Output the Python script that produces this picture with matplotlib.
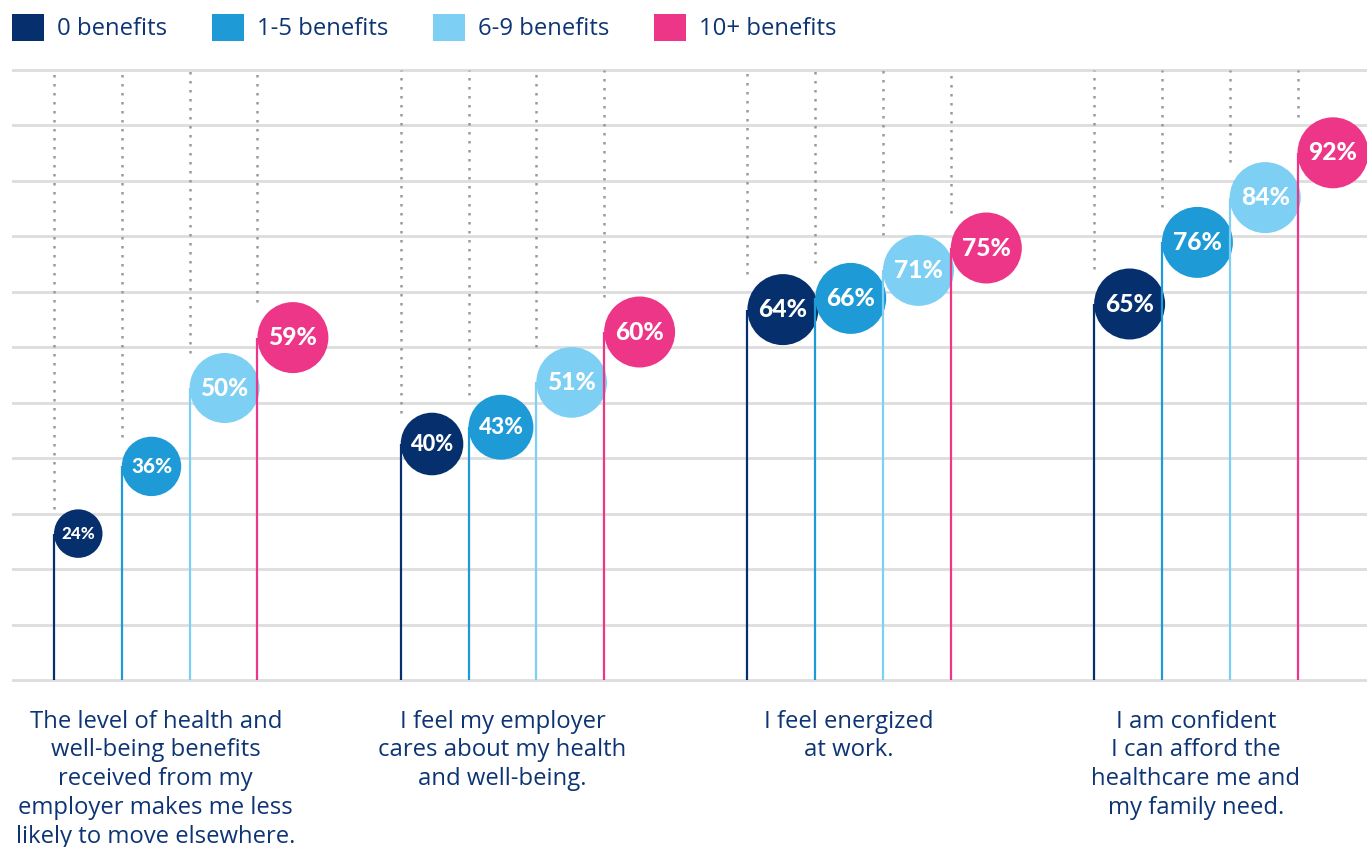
import numpy as np
import matplotlib.pyplot as plt
from matplotlib.patches import Patch
from matplotlib.transforms import blended_transform_factory

plt.rcParams.update({'font.family': ['Open Sans', 'DejaVu Sans']})

# data
series = ['0 benefits', '1-5 benefits', '6-9 benefits', '10+ benefits']
statements = [
    'The level of health and\nwell-being benefits\nreceived from my\nemployer makes me less\nlikely to move elsewhere.',
    'I feel my employer\ncares about my health\nand well-being.',
    'I feel energized\nat work.',
    'I am confident\nI can afford the\nhealthcare me and\nmy family need.',
]
vals_0 = [24, 40, 64, 65]
vals_1_5 = [36, 43, 66, 76]
vals_6_9 = [50, 51, 71, 84]
vals_10 = [59, 60, 75, 92]
all_vals = [vals_0, vals_1_5, vals_6_9, vals_10]

colors = ['#062f6e', '#1e9ad6', '#7ecff4', '#ee3688']
text_color = '#0d3474'
grid_color = '#dddddd'
dot_color = '#9a9a9a'

W, H = 1367, 847
fig = plt.figure(figsize=(W / 100, H / 100), dpi=100)
ax_l, ax_r, ax_t, ax_b = 12, 1367, 62, 684
ax = fig.add_axes([ax_l / W, 1 - ax_b / H, (ax_r - ax_l) / W, (ax_b - ax_t) / H])

# pixel scales of the layout
px_per_group = 346.7
px_per_pct = 5.6
first_center_px = 155.7
zero_px = 668
ax.set_xlim(-(first_center_px - ax_l) / px_per_group, (ax_r - first_center_px) / px_per_group)
ax.set_ylim(-(ax_b - zero_px) / px_per_pct, (zero_px - ax_t) / px_per_pct)
ax.axis('off')

# horizontal guide lines
base = -(680 - zero_px) / px_per_pct
top = (zero_px - 70) / px_per_pct
for g in np.linspace(base, top, 12):
    ax.axhline(g, color=grid_color, lw=2, zorder=0)

step = 67.8 / px_per_group
groups = np.arange(len(statements))
for j, (vals, c) in enumerate(zip(all_vals, colors)):
    xs = groups + (j - 1.5) * step
    for x, v in zip(xs, vals):
        r = min(4.95 * np.sqrt(v), 35.5)
        ax.plot([x, x], [base, v], color=c, lw=1.6, zorder=2 + 2 * j, solid_capstyle='butt')
        ax.plot([x, x], [v + r / px_per_pct, top], color=dot_color, lw=1.8,
                dashes=(1, 2.6), zorder=1)
        cx = x + r / px_per_group
        ax.scatter([cx], [v], s=(1.44 * r) ** 2, color=c, edgecolors='none',
                   zorder=3 + 2 * j, clip_on=False)
        ax.text(cx, v, f'{v}%', color='white', fontsize=r * 0.5, fontweight='black',
                family='Lato', ha='center', va='center', zorder=3.5 + 2 * j)

# statement labels under each group
trans = blended_transform_factory(ax.transData, ax.transAxes)
for i, s in enumerate(statements):
    ax.text(i, -0.041, s, transform=trans, ha='center', va='top', fontsize=17.2,
            color=text_color, linespacing=1.27)

# legend
handles = [Patch(facecolor=c, edgecolor='none', label=s) for s, c in zip(series, colors)]
fig.legend(handles=handles, loc='upper left', bbox_to_anchor=(12 / W, 1 - 14 / H), ncol=4,
           frameon=False, fontsize=17.2, handlelength=1.35, handleheight=1.35,
           handletextpad=0.55, columnspacing=1.85, borderpad=0, borderaxespad=0,
           labelcolor=text_color)

fig.savefig('out.png', dpi=100)
